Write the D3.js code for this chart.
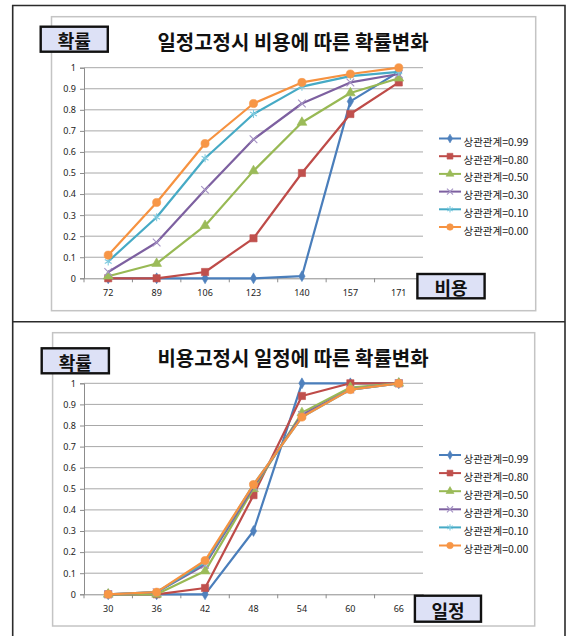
<!DOCTYPE html>
<html>
<head>
<meta charset="utf-8">
<script src="https://cdn.jsdelivr.net/npm/d3@7"></script>
<style>
  body { margin: 0; background: #fff; }
  svg { display: block; }
</style>
</head>
<body>
<script>
// legend labels (same for both charts)
const seriesNames = ["상관관계=0.99", "상관관계=0.80", "상관관계=0.50", "상관관계=0.30", "상관관계=0.10", "상관관계=0.00"];
const yTicks = [0, 0.1, 0.2, 0.3, 0.4, 0.5, 0.6, 0.7, 0.8, 0.9, 1];

// chart 1 : 일정고정시 비용에 따른 확률변화
const costCats = ["72", "89", "106", "123", "140", "157", "171"];
const cost099 = [0, 0, 0, 0, 0.01, 0.84, 0.98];
const cost080 = [0, 0, 0.03, 0.19, 0.50, 0.78, 0.93];
const cost050 = [0.01, 0.07, 0.25, 0.51, 0.74, 0.88, 0.95];
const cost030 = [0.03, 0.17, 0.42, 0.66, 0.83, 0.93, 0.97];
const cost010 = [0.08, 0.29, 0.57, 0.78, 0.91, 0.96, 0.98];
const cost000 = [0.11, 0.36, 0.64, 0.83, 0.93, 0.97, 1.00];

// chart 2 : 비용고정시 일정에 따른 확률변화
const schedCats = ["30", "36", "42", "48", "54", "60", "66"];
const sched099 = [0, 0, 0, 0.30, 1.00, 1.00, 1.00];
const sched080 = [0, 0, 0.03, 0.47, 0.94, 1.00, 1.00];
const sched050 = [0, 0, 0.11, 0.50, 0.86, 0.98, 1.00];
const sched030 = [0, 0.01, 0.14, 0.51, 0.85, 0.97, 1.00];
const sched010 = [0, 0.01, 0.15, 0.52, 0.84, 0.97, 1.00];
const sched000 = [0, 0.01, 0.16, 0.52, 0.84, 0.97, 1.00];

// excel 2007 look
const lineColors = ["#4a7ebb", "#be4b48", "#98b954", "#7d60a0", "#46aac5", "#f69240"];
const markColors = ["#4f81bd", "#c0504d", "#9bbb59", "#a593c4", "#7fcadf", "#f79646"];
const markTypes = [
  { sym: d3.symbolDiamond, size: 34, fill: true },
  { sym: d3.symbolSquare, size: 52, fill: true },
  { sym: d3.symbolTriangle, size: 42, fill: true },
  { sym: d3.symbolX, size: 40, fill: false },
  { sym: d3.symbolAsterisk, size: 44, fill: false },
  { sym: d3.symbolCircle, size: 52, fill: true }
];

const panels = [
  {
    title: "일정고정시 비용에 따른 확률변화", cats: costCats, xName: "비용",
    series: [cost099, cost080, cost050, cost030, cost010, cost000],
    frame: [51.5, 16.7, 535.7, 310.7], yRange: [278.3, 67.7], titleY: 41.7,
    yBox: [40.7, 26.7, 107.8, 51.7], xBox: [417.4, 274, 484.6, 298.3],
    legY: 138.5, legStep: 17.7
  },
  {
    title: "비용고정시 일정에 따른 확률변화", cats: schedCats, xName: "일정",
    series: [sched099, sched080, sched050, sched030, sched010, sched000],
    frame: [52.6, 332.7, 534.7, 626], yRange: [594.3, 383.3], titleY: 357.4,
    yBox: [41.7, 348.3, 108.9, 373.3], xBox: [414.9, 595.7, 481, 621.7],
    legY: 455, legStep: 18.1
  }
];

const svg = d3.select("body").append("svg")
  .attr("width", 569)
  .attr("height", 636)
  .style("font-family", "'Noto Sans CJK KR', 'Noto Sans', sans-serif");

// outer table frame
svg.append("path")
  .attr("d", "M12.7,636 L12.7,5.5 L565,5.5 L565,636 M12.7,321.7 L565,321.7")
  .attr("fill", "none")
  .attr("stroke", "#2b2b2b")
  .attr("stroke-width", 1.6);

function labelBox(g, b, label) {
  g.append("rect")
    .attr("x", b[0]).attr("y", b[1])
    .attr("width", b[2] - b[0]).attr("height", b[3] - b[1])
    .attr("fill", "#dde1f6")
    .attr("stroke", "#111")
    .attr("stroke-width", 2.4);
  g.append("text")
    .attr("x", (b[0] + b[2]) / 2)
    .attr("y", (b[1] + b[3]) / 2 + 1)
    .attr("text-anchor", "middle")
    .attr("dominant-baseline", "central")
    .attr("font-size", 18)
    .attr("font-weight", "bold")
    .attr("fill", "#111")
    .text(label);
}

function drawMarker(g, i, cx, cy, k) {
  const m = markTypes[i];
  g.append("path")
    .attr("transform", `translate(${cx},${cy})`)
    .attr("d", d3.symbol(m.sym, m.size * k)())
    .attr("fill", m.fill ? markColors[i] : "none")
    .attr("stroke", markColors[i])
    .attr("stroke-width", m.fill ? 0.6 : 1.1);
}

panels.forEach(p => {
  const g = svg.append("g");

  // chart area border
  g.append("rect")
    .attr("x", p.frame[0]).attr("y", p.frame[1])
    .attr("width", p.frame[2] - p.frame[0]).attr("height", p.frame[3] - p.frame[1])
    .attr("fill", "#fff")
    .attr("stroke", "#c4c4c4")
    .attr("stroke-width", 1.5);

  const x = d3.scaleBand().domain(p.cats).range([84, 423]).padding(0);
  const y = d3.scaleLinear().domain([0, 1]).range(p.yRange);

  // gridlines
  g.append("g").selectAll("line")
    .data(yTicks.slice(1))
    .join("line")
    .attr("x1", 84).attr("x2", 423)
    .attr("y1", d => y(d)).attr("y2", d => y(d))
    .attr("stroke", "#a8a8a8")
    .attr("stroke-width", 1);

  // y axis
  const yAxis = g.append("g")
    .attr("transform", "translate(84,0)")
    .call(d3.axisLeft(y).tickValues(yTicks).tickSize(4).tickPadding(4).tickFormat(d3.format("")));
  yAxis.select(".domain").attr("stroke", "#8c8c8c");
  yAxis.selectAll(".tick line").attr("stroke", "#8c8c8c");
  yAxis.selectAll("text").attr("font-size", 9).attr("fill", "#222")
    .style("font-family", "'Noto Sans', sans-serif");

  // x axis
  const x0 = p.yRange[0];
  const xAxis = g.append("g")
    .attr("transform", `translate(0,${x0})`)
    .call(d3.axisBottom(x).tickSize(0).tickPadding(11));
  xAxis.select(".domain").attr("stroke", "#8c8c8c");
  xAxis.selectAll("text").attr("font-size", 9).attr("fill", "#222")
    .style("font-family", "'Noto Sans', sans-serif");
  // tick marks sit between categories
  g.append("g").selectAll("line")
    .data(p.cats.concat(["end"]))
    .join("line")
    .attr("x1", (d, i) => i < p.cats.length ? x(d) : x.range()[1])
    .attr("x2", (d, i) => i < p.cats.length ? x(d) : x.range()[1])
    .attr("y1", x0).attr("y2", x0 + 4)
    .attr("stroke", "#8c8c8c");

  // title
  g.append("text")
    .attr("x", 293)
    .attr("y", p.titleY)
    .attr("text-anchor", "middle")
    .attr("dominant-baseline", "central")
    .attr("font-size", 20)
    .attr("font-weight", "bold")
    .attr("fill", "#111")
    .text(p.title);

  labelBox(g, p.yBox, "확률");
  labelBox(g, p.xBox, p.xName);

  // series
  const line = d3.line()
    .x((d, i) => x(p.cats[i]) + x.bandwidth() / 2)
    .y(d => y(d));

  p.series.forEach((vals, si) => {
    const sg = g.append("g");
    sg.append("path")
      .datum(vals)
      .attr("d", line)
      .attr("fill", "none")
      .attr("stroke", lineColors[si])
      .attr("stroke-width", 2.2)
      .attr("stroke-linejoin", "round");
    vals.forEach((v, i) => drawMarker(sg, si, x(p.cats[i]) + x.bandwidth() / 2, y(v), 1));
  });

  // legend
  seriesNames.forEach((name, si) => {
    const ly = p.legY + si * p.legStep;
    const lg = g.append("g");
    lg.append("line")
      .attr("x1", 439).attr("x2", 461)
      .attr("y1", ly).attr("y2", ly)
      .attr("stroke", lineColors[si])
      .attr("stroke-width", 2);
    drawMarker(lg, si, 450, ly, 0.65);
    lg.append("text")
      .attr("x", 463.5)
      .attr("y", ly + 3)
      .attr("dominant-baseline", "central")
      .attr("font-size", 10.5)
      .attr("fill", "#222")
      .text(name);
  });
});
</script>
</body>
</html>
